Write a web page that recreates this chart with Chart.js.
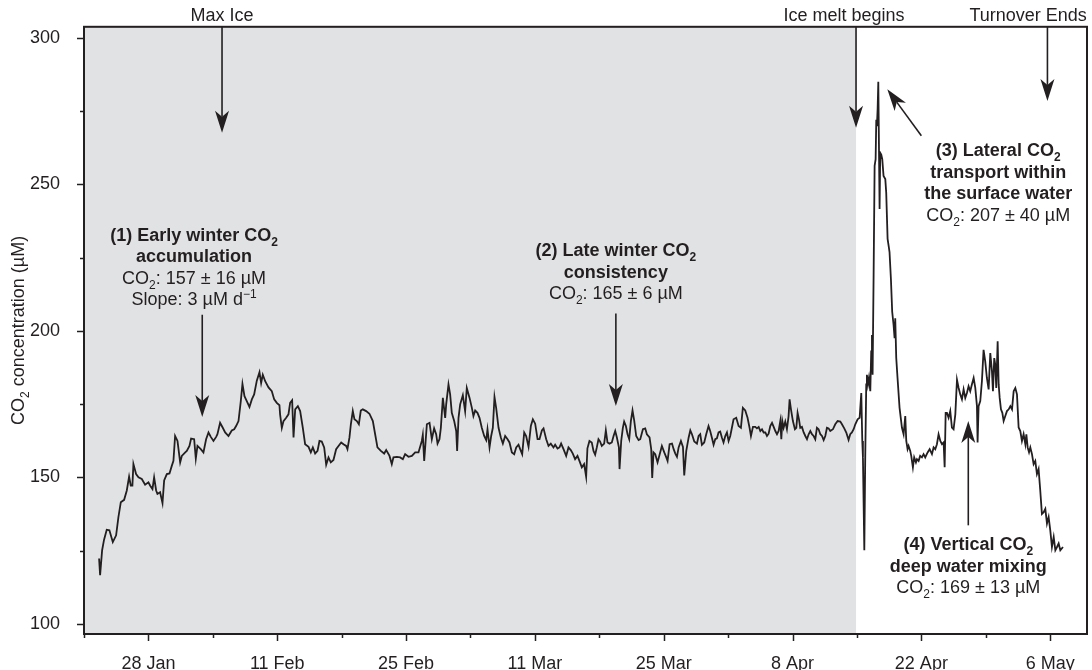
<!DOCTYPE html>
<html>
<head>
<meta charset="utf-8">
<script src="https://cdn.jsdelivr.net/npm/chart.js@4.4.1/dist/chart.umd.min.js"></script>
<style>
  html, body { margin: 0; padding: 0; background: #fff; }
  #wrap { width: 1092px; height: 670px; }
</style>
</head>
<body>
<div id="wrap"><canvas id="co2Chart" width="1092" height="670"></canvas></div>
<script>
// sample time in days since 21 Jan
const sampleDay = [
  1.64, 1.75, 1.97, 2.18, 2.47, 2.76, 3.13, 3.49, 3.74, 4.00, 4.36, 4.65, 4.90, 5.08, 5.26, 5.37, 5.66, 5.92, 6.28, 6.64,
  7.00, 7.18, 7.44, 7.62, 7.84, 7.98, 8.27, 8.53, 8.71, 9.00, 9.29, 9.54, 9.72, 9.90, 10.16, 10.45, 10.63, 11.00, 11.17, 11.46,
  11.64, 11.97, 12.15, 12.33, 12.69, 12.98, 13.27, 13.53, 13.78, 14.07, 14.36, 14.50, 14.79, 15.08, 15.34, 15.70, 16.06, 16.32, 16.53, 16.79,
  17.04, 17.22, 17.44, 17.69, 17.98, 18.24, 18.49, 18.78, 19.07, 19.25, 19.43, 19.69, 20.05, 20.41, 20.67, 20.95, 21.24, 21.31, 21.50, 21.68,
  21.97, 22.22, 22.40, 22.62, 22.77, 22.95, 23.24, 23.49, 23.78, 24.03, 24.40, 24.65, 24.87, 25.12, 25.38, 25.59, 25.84, 26.10, 26.32, 26.57,
  26.82, 27.11, 27.40, 27.66, 27.95, 28.20, 28.49, 28.63, 28.85, 29.00, 29.21, 29.39, 29.65, 29.87, 30.08, 30.30, 30.66, 31.02, 31.39, 31.64,
  31.89, 32.26, 32.62, 32.84, 33.20, 33.45, 33.63, 34.00, 34.36, 34.65, 34.90, 35.26, 35.63, 35.99, 36.35, 36.71, 36.82, 36.97, 37.26, 37.55,
  37.80, 38.05, 38.27, 38.42, 38.63, 38.78, 39.00, 39.25, 39.36, 39.61, 39.79, 39.97, 40.23, 40.45, 40.55, 40.70, 40.88, 41.17, 41.42, 41.60,
  41.90, 42.15, 42.32, 42.51, 42.76, 42.98, 43.23, 43.49, 43.71, 43.85, 44.07, 44.25, 44.43, 44.61, 44.79, 45.05, 45.30, 45.52, 45.77, 46.03,
  46.24, 46.50, 46.75, 46.97, 47.22, 47.40, 47.62, 47.84, 48.05, 48.31, 48.56, 48.78, 49.03, 49.29, 49.50, 49.76, 49.94, 50.23, 50.48, 50.73,
  51.02, 51.20, 51.46, 51.67, 51.85, 52.11, 52.40, 52.65, 52.90, 53.12, 53.37, 53.63, 53.84, 54.10, 54.35, 54.57, 54.71, 54.93, 55.18, 55.37,
  55.55, 55.73, 55.91, 56.09, 56.27, 56.53, 56.71, 56.89, 57.11, 57.36, 57.55, 57.73, 57.91, 58.13, 58.20, 58.38, 58.56, 58.70, 58.89, 59.07,
  59.25, 59.43, 59.61, 59.79, 60.01, 60.27, 60.45, 60.74, 60.99, 61.17, 61.46, 61.64, 61.75, 61.89, 62.08, 62.33, 62.55, 62.80, 63.06, 63.28,
  63.42, 63.64, 63.90, 64.08, 64.26, 64.44, 64.62, 64.87, 65.09, 65.23, 65.45, 65.71, 65.89, 66.07, 66.32, 66.61, 66.79, 66.97, 67.15, 67.40,
  67.62, 67.87, 68.05, 68.23, 68.42, 68.60, 68.78, 68.96, 69.14, 69.32, 69.50, 69.69, 69.87, 70.05, 70.23, 70.41, 70.59, 70.88, 71.14, 71.39,
  71.60, 71.86, 72.11, 72.33, 72.48, 72.70, 72.95, 73.13, 73.32, 73.50, 73.68, 73.86, 74.04, 74.22, 74.40, 74.58, 74.77, 74.95, 75.13, 75.31,
  75.49, 75.67, 75.78, 75.89, 76.03, 76.21, 76.39, 76.57, 76.68, 76.83, 77.04, 77.26, 77.41, 77.55, 77.70, 77.84, 78.02, 78.21, 78.39, 78.57,
  78.75, 78.93, 79.11, 79.29, 79.47, 79.65, 79.83, 80.02, 80.20, 80.38, 80.56, 80.74, 80.92, 81.10, 81.39, 81.64, 81.90, 82.19, 82.37, 82.62,
  82.84, 83.09, 83.27, 83.45, 83.64, 83.82, 84.07, 84.29, 84.47, 84.58, 84.65, 84.80, 84.90, 85.01, 85.08, 85.19, 85.30, 85.45, 85.55, 85.63,
  85.70, 85.81, 85.92, 86.03, 86.10, 86.17, 86.25, 86.32, 86.46, 86.53, 86.64, 86.75, 86.89, 87.08, 87.18, 87.33, 87.44, 87.54, 87.69, 87.83,
  87.98, 88.09, 88.16, 88.27, 88.41, 88.63, 88.89, 89.07, 89.25, 89.36, 89.50, 89.61, 89.79, 89.90, 90.08, 90.22, 90.41, 90.52, 90.70, 90.87,
  91.06, 91.24, 91.42, 91.68, 91.90, 92.15, 92.33, 92.51, 92.69, 92.87, 93.06, 93.24, 93.42, 93.53, 93.64, 93.78, 93.96, 94.14, 94.32, 94.50,
  94.69, 94.87, 95.05, 95.23, 95.41, 95.59, 95.77, 95.95, 96.13, 96.31, 96.49, 96.68, 96.86, 97.04, 97.11, 97.22, 97.40, 97.58, 97.76, 97.94,
  98.12, 98.31, 98.49, 98.67, 98.78, 98.92, 99.03, 99.14, 99.29, 99.40, 99.51, 99.65, 99.80, 99.94, 100.12, 100.30, 100.49, 100.67, 100.85, 101.03,
  101.21, 101.39, 101.57, 101.75, 101.93, 102.11, 102.30, 102.41, 102.55, 102.70, 102.84, 103.02, 103.20, 103.38, 103.56, 103.74, 103.92, 104.10, 104.29, 104.47,
  104.65, 104.83, 105.01, 105.19, 105.38, 105.56, 105.74, 105.92, 106.10, 106.39
];

// CO2 concentration (uM)
const co2 = [
  122.3, 116.6, 125.1, 128.7, 132.1, 131.9, 127.9, 130.2, 136.4, 141.5, 142.3, 145.5, 150.2, 147.2, 147.2, 154.5, 151.1, 150.0, 149.4, 147.5,
  148.3, 147.2, 146.0, 150.0, 145.5, 144.3, 144.9, 141.2, 148.9, 151.1, 151.3, 153.9, 155.6, 164.1, 162.4, 155.1, 157.3, 158.5, 159.0, 160.7,
  163.2, 163.0, 156.4, 160.7, 159.6, 158.5, 163.0, 165.3, 163.8, 162.4, 163.8, 164.7, 168.6, 166.9, 165.3, 164.1, 166.0, 166.4, 167.5, 169.2,
  176.0, 181.9, 177.7, 176.0, 174.0, 176.6, 178.3, 183.0, 185.9, 182.2, 185.0, 182.8, 180.7, 179.4, 176.6, 175.4, 174.6, 171.5, 166.9, 169.2,
  170.3, 171.5, 175.4, 176.3, 163.6, 173.2, 174.3, 172.6, 166.9, 161.3, 160.4, 158.5, 160.2, 158.1, 159.0, 162.4, 162.2, 160.2, 154.3, 156.8,
  155.1, 155.9, 159.6, 160.7, 161.9, 161.3, 160.7, 159.6, 163.6, 168.1, 172.6, 169.8, 169.2, 168.1, 172.8, 173.2, 172.6, 171.7, 169.2, 164.7,
  160.2, 159.0, 158.1, 159.3, 157.3, 154.5, 156.8, 157.0, 156.8, 156.2, 157.9, 157.0, 157.3, 158.5, 158.5, 162.4, 164.5, 155.6, 168.1, 168.6,
  163.0, 166.7, 164.7, 161.5, 163.0, 166.9, 177.1, 170.3, 174.9, 181.7, 178.3, 172.0, 169.2, 165.8, 159.0, 170.3, 174.9, 178.0, 172.6, 180.5,
  177.1, 173.7, 170.9, 172.8, 172.0, 170.3, 166.9, 164.1, 162.7, 166.4, 160.2, 164.1, 166.9, 177.4, 173.7, 166.9, 163.6, 161.5, 164.1, 163.0,
  161.9, 158.5, 157.9, 160.2, 161.1, 159.6, 157.9, 165.3, 164.1, 160.4, 167.5, 169.8, 168.3, 163.0, 163.0, 166.0, 166.7, 163.0, 160.7, 161.5,
  160.2, 161.1, 159.8, 160.2, 161.5, 159.6, 157.3, 160.2, 159.3, 158.1, 156.2, 157.3, 155.6, 153.4, 154.5, 150.2, 159.9, 162.4, 161.9, 159.0,
  157.7, 160.2, 163.0, 162.2, 160.7, 161.5, 166.0, 161.9, 161.5, 161.9, 164.1, 165.8, 163.6, 160.2, 152.8, 162.4, 166.9, 169.0, 167.5, 164.7,
  163.0, 169.2, 172.8, 169.4, 164.1, 162.7, 163.0, 166.4, 166.7, 164.7, 163.6, 159.6, 149.8, 158.5, 157.9, 155.1, 157.7, 160.7, 158.5, 156.8,
  155.6, 161.3, 161.5, 159.6, 158.1, 157.0, 160.2, 162.4, 160.4, 150.6, 159.0, 163.6, 166.0, 164.7, 162.2, 161.5, 164.1, 164.7, 161.1, 161.9,
  164.7, 167.5, 165.8, 163.6, 161.1, 163.0, 163.3, 165.3, 165.6, 163.6, 161.9, 164.1, 165.3, 162.4, 164.1, 166.9, 169.8, 170.3, 167.5, 166.9,
  173.7, 172.8, 170.3, 166.9, 164.1, 167.2, 167.2, 166.7, 167.2, 165.8, 166.4, 165.3, 165.3, 164.1, 164.9, 167.5, 168.6, 167.2, 165.8, 164.7,
  165.8, 169.2, 163.0, 169.2, 166.9, 169.0, 166.4, 170.9, 176.6, 173.2, 169.2, 166.4, 166.9, 172.0, 169.8, 166.9, 167.2, 165.3, 164.1, 163.0,
  164.7, 165.8, 164.7, 164.1, 163.0, 166.9, 166.4, 164.7, 164.1, 162.7, 164.1, 166.9, 166.7, 165.8, 166.4, 168.1, 169.2, 169.0, 168.1, 166.7,
  165.3, 162.8, 164.7, 165.3, 166.4, 168.1, 169.8, 170.3, 178.8, 162.4, 156.8, 125.1, 156.8, 181.7, 185.0, 181.7, 183.9, 179.4, 193.0, 198.6,
  185.0, 219.0, 256.3, 258.6, 272.1, 269.9, 276.1, 285.0, 241.6, 260.8, 260.2, 258.6, 252.9, 251.8, 247.2, 231.4, 229.1, 226.9, 217.8, 206.5,
  202.0, 197.5, 204.3, 190.7, 183.9, 173.7, 166.9, 164.7, 170.9, 162.4, 159.6, 160.7, 159.0, 157.3, 153.4, 156.8, 155.1, 156.2, 155.6, 157.3,
  156.8, 157.9, 156.8, 158.5, 159.6, 157.9, 160.2, 159.6, 161.3, 164.7, 162.4, 161.3, 161.9, 153.4, 172.0, 172.0, 170.3, 172.6, 167.0, 166.4,
  171.5, 183.3, 180.5, 178.3, 176.6, 180.0, 177.1, 178.8, 181.1, 179.4, 181.7, 183.9, 180.5, 174.3, 161.9, 174.3, 176.0, 182.8, 193.5, 189.6,
  183.9, 180.0, 192.4, 186.2, 179.4, 190.7, 188.5, 180.5, 196.4, 181.7, 177.1, 173.2, 172.0, 169.2, 170.9, 172.6, 173.2, 174.3, 173.2, 179.4,
  180.5, 178.3, 167.0, 165.8, 162.4, 164.7, 161.3, 164.7, 160.2, 158.5, 160.2, 157.9, 154.5, 155.6, 151.1, 152.8, 145.5, 137.5, 138.1, 139.2,
  134.2, 136.4, 131.9, 126.2, 129.6, 125.1, 126.2, 127.4, 125.1, 126.2
];

const tickDays = [7, 21, 35, 49, 63, 77, 91, 105];
const tickLabels = ["28 Jan", "11 Feb", "25 Feb", "11 Mar", "25 Mar", "8 Apr", "22 Apr", "6 May"];
const yLabelValues = [100, 150, 200, 250, 300];
const iceMeltDay = 83.9;

const ink = "#231f20";
const shade = "#e1e2e4";
const FONT = '"Liberation Sans", Arial, Helvetica, sans-serif';
const SIZE = 18;

// arrows in data units (day, uM); y1 = null means the top of the plot
const arrows = [
  { x1: 15.0, y1: null, x2: 15.0, y2: 267.6 },
  { x1: 83.9, y1: null, x2: 83.9, y2: 269.3 },
  { x1: 104.7, y1: null, x2: 104.7, y2: 278.5 },
  { x1: 12.85, y1: 205.5, x2: 12.85, y2: 170.6 },
  { x1: 57.8, y1: 205.9, x2: 57.8, y2: 174.3 },
  { x1: 91.0, y1: 266.6, x2: 87.3, y2: 282.5 },
  { x1: 96.1, y1: 133.6, x2: 96.1, y2: 169.2 },
];

const sub2 = { sub: "2" };
const notes = [
  { x: 11.96, y: 230.8, lines: [
    { bold: true, parts: ["(1) Early winter CO", sub2] },
    { bold: true, parts: ["accumulation"] },
    { parts: ["CO", sub2, ": 157 ± 16 µM"] },
    { parts: ["Slope: 3 µM d", { sup: "−1" }] },
  ] },
  { x: 57.8, y: 225.5, lines: [
    { bold: true, parts: ["(2) Late winter CO", sub2] },
    { bold: true, parts: ["consistency"] },
    { parts: ["CO", sub2, ": 165 ± 6 µM"] },
  ] },
  { x: 99.35, y: 259.6, lines: [
    { bold: true, parts: ["(3) Lateral CO", sub2] },
    { bold: true, parts: ["transport within"] },
    { bold: true, parts: ["the surface water"] },
    { parts: ["CO", sub2, ": 207 ± 40 µM"] },
  ] },
  { x: 96.1, y: 125.1, lines: [
    { bold: true, parts: ["(4) Vertical CO", sub2] },
    { bold: true, parts: ["deep water mixing"] },
    { parts: ["CO", sub2, ": 169 ± 13 µM"] },
  ] },
];

const topNotes = [
  { x: 15.0, text: "Max Ice" },
  { x: 82.6, text: "Ice melt begins" },
  { x: 102.6, text: "Turnover Ends" },
];

function partFont(p, weight) {
  const small = typeof p === "object";
  return `${weight} ${small ? Math.round(SIZE * 0.68) : SIZE}px ${FONT}`;
}

function drawRich(ctx, x, y, parts, weight, align) {
  let total = 0;
  parts.forEach((p) => {
    ctx.font = partFont(p, weight);
    total += ctx.measureText(typeof p === "object" ? p.sub || p.sup : p).width;
  });
  let cx = align === "center" ? x - total / 2 : x;
  ctx.textAlign = "left";
  ctx.textBaseline = "alphabetic";
  parts.forEach((p) => {
    ctx.font = partFont(p, weight);
    let t = p, dy = 0;
    if (typeof p === "object") {
      t = p.sub || p.sup;
      dy = p.sub ? SIZE * 0.28 : -SIZE * 0.42;
    }
    ctx.fillText(t, cx, y + dy);
    cx += ctx.measureText(t).width;
  });
}

function drawArrow(ctx, x1, y1, x2, y2) {
  const len = Math.hypot(x2 - x1, y2 - y1);
  const ux = (x2 - x1) / len, uy = (y2 - y1) / len;
  const L = 22, W = 7, N = 6;
  ctx.beginPath();
  ctx.moveTo(x1, y1);
  ctx.lineTo(x2 - ux * (L - N), y2 - uy * (L - N));
  ctx.stroke();
  ctx.beginPath();
  ctx.moveTo(x2, y2);
  ctx.lineTo(x2 - ux * L - uy * W, y2 - uy * L + ux * W);
  ctx.lineTo(x2 - ux * (L - N), y2 - uy * (L - N));
  ctx.lineTo(x2 - ux * L + uy * W, y2 - uy * L - ux * W);
  ctx.closePath();
  ctx.fill();
}

const decor = {
  id: "decor",
  beforeDraw(chart) {
    const { ctx, width, height } = chart;
    ctx.save();
    ctx.fillStyle = "#fff";
    ctx.fillRect(0, 0, width, height);
    ctx.restore();
  },
  beforeDatasetsDraw(chart) {
    const { ctx, chartArea: a, scales } = chart;
    ctx.save();
    ctx.fillStyle = shade;
    ctx.fillRect(a.left, a.top, scales.x.getPixelForValue(iceMeltDay) - a.left, a.bottom - a.top);
    ctx.restore();
  },
  afterDraw(chart) {
    const { ctx, chartArea: a, scales } = chart;
    const xs = scales.x, ys = scales.y;
    ctx.save();
    ctx.strokeStyle = ink;
    ctx.fillStyle = ink;

    // tick marks, longer on labelled ticks
    ctx.lineWidth = 1.5;
    xs.ticks.forEach((t) => {
      const px = Math.round(xs.getPixelForValue(t.value)) + 0.5;
      const len = tickDays.includes(t.value) ? 7 : 4;
      ctx.beginPath();
      ctx.moveTo(px, a.bottom);
      ctx.lineTo(px, a.bottom + len);
      ctx.stroke();
    });
    ys.ticks.forEach((t) => {
      const py = Math.round(ys.getPixelForValue(t.value)) + 0.5;
      const len = yLabelValues.includes(t.value) ? 7 : 4;
      ctx.beginPath();
      ctx.moveTo(a.left, py);
      ctx.lineTo(a.left - len, py);
      ctx.stroke();
    });

    // frame
    ctx.lineWidth = 2;
    ctx.strokeRect(a.left, a.top, a.right - a.left, a.bottom - a.top);

    // arrows
    ctx.lineWidth = 1.6;
    arrows.forEach((r) => {
      const y1 = r.y1 === null ? a.top : ys.getPixelForValue(r.y1);
      drawArrow(ctx, xs.getPixelForValue(r.x1), y1, xs.getPixelForValue(r.x2), ys.getPixelForValue(r.y2));
    });

    // text blocks
    notes.forEach((n) => {
      const cx = xs.getPixelForValue(n.x);
      let y = ys.getPixelForValue(n.y);
      n.lines.forEach((ln) => {
        drawRich(ctx, cx, y, ln.parts, ln.bold ? "bold" : "normal", "center");
        y += 21.5;
      });
    });
    topNotes.forEach((n) => {
      drawRich(ctx, xs.getPixelForValue(n.x), a.top - 6, [n.text], "normal", "center");
    });

    // y axis title
    ctx.translate(24, (a.top + a.bottom) / 2);
    ctx.rotate(-Math.PI / 2);
    drawRich(ctx, 0, 0, ["CO", sub2, " concentration (µM)"], "normal", "center");
    ctx.restore();
  },
};

new Chart(document.getElementById("co2Chart").getContext("2d"), {
  type: "line",
  data: {
    datasets: [{
      data: sampleDay.map((d, i) => ({ x: d, y: co2[i] })),
      borderColor: ink,
      borderWidth: 1.8,
      pointRadius: 0,
      tension: 0,
      fill: false,
    }],
  },
  options: {
    responsive: false,
    animation: false,
    layout: { padding: { top: 23, right: 5, left: 0, bottom: 0 } },
    plugins: { legend: { display: false }, tooltip: { enabled: false } },
    scales: {
      x: {
        type: "linear",
        min: 0,
        max: 109,
        afterFit: (s) => { s.height = 36; },
        grid: { display: false },
        border: { display: false },
        ticks: {
          stepSize: 7,
          autoSkip: false,
          includeBounds: false,
          maxRotation: 0,
          padding: 11,
          color: ink,
          font: { family: FONT, size: SIZE },
          callback: (v) => {
            const i = tickDays.indexOf(v);
            return i >= 0 ? tickLabels[i] : "";
          },
        },
      },
      y: {
        min: 96.5,
        max: 303.8,
        afterFit: (s) => { s.width = 84; },
        grid: { display: false },
        border: { display: false },
        ticks: {
          stepSize: 25,
          autoSkip: false,
          includeBounds: false,
          padding: 16,
          color: ink,
          font: { family: FONT, size: SIZE },
          callback: (v) => (yLabelValues.includes(v) ? String(v) : ""),
        },
      },
    },
  },
  plugins: [decor],
});
</script>
</body>
</html>
